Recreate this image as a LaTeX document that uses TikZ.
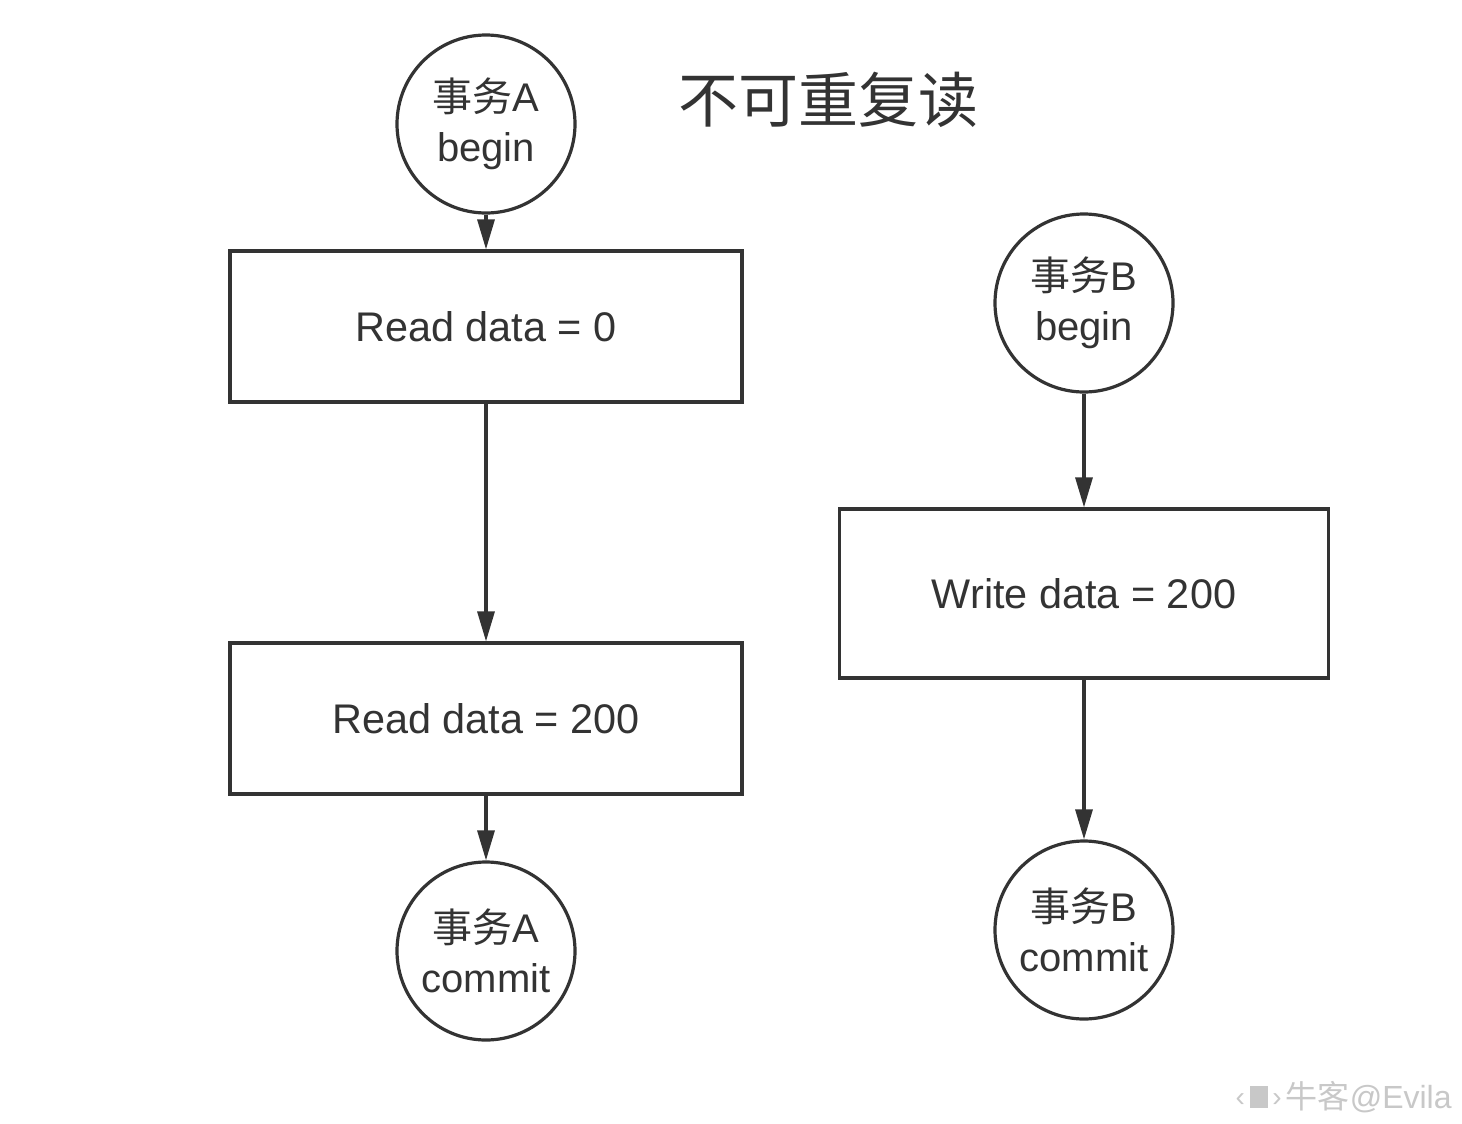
\documentclass[tikz,border=0pt]{standalone}
\usepackage{fontspec}
\setmainfont{Liberation Sans}
\newfontfamily\cjk{Noto Sans CJK SC}
\usetikzlibrary{arrows.meta}
\definecolor{ink}{HTML}{333333}
\definecolor{wm}{HTML}{C8C8C8}
\begin{document}
\begin{tikzpicture}[x=0.5pt,y=-0.5pt,
  every node/.style={text=ink},
  circnode/.style={circle,draw=ink,line width=1.6pt,minimum size=89pt,inner sep=0pt,align=center,font=\fontsize{20}{25}\selectfont},
  boxnode/.style={rectangle,draw=ink,line width=1.6pt,inner sep=0pt,font=\fontsize{20.7}{24}\selectfont},
  conn/.style={draw=ink,line width=1.6pt,-{Triangle[length=15pt,width=8.5pt]}}]
\useasboundingbox (0,0) rectangle (1462,1124);
\fill[white] (0,0) rectangle (1462,1124);
% title
\node[font=\cjk\fontsize{30}{34}\selectfont] (title) at (828,100) {不可重复读};
% transaction A
\node[circnode] (abegin) at (486,124) {{\cjk 事务}A\\begin};
\node[boxnode,minimum width=256pt,minimum height=75.5pt] (r1) at (486,326.5) {Read data = 0};
\node[boxnode,minimum width=256pt,minimum height=75.5pt] (r2) at (486,718.5) {Read data = 200};
\node[circnode] (acommit) at (486,951) {{\cjk 事务}A\\commit};
% transaction B
\node[circnode] (bbegin) at (1084,303) {{\cjk 事务}B\\begin};
\node[boxnode,minimum width=244.5pt,minimum height=84.5pt] (w1) at (1084,593.5) {Write data = 200};
\node[circnode] (bcommit) at (1084,930) {{\cjk 事务}B\\commit};
% connectors
\draw[conn] (abegin) -- (r1);
\draw[conn] (r1) -- (r2);
\draw[conn] (r2) -- (acommit);
\draw[conn] (bbegin) -- (w1);
\draw[conn] (w1) -- (bcommit);
% watermark
\node[anchor=east,text=wm,font=\fontsize{16}{18}\selectfont,inner sep=0pt] (wmark) at (1452,1097) {{\cjk 牛客}@Evila};
\node[anchor=east,text=wm,font=\fontsize{14}{16}\selectfont,inner sep=0pt] (wicon) at (1282,1097) {‹\,\raisebox{-1pt}{\rule{9pt}{11pt}}\,›};
\end{tikzpicture}
\end{document}
